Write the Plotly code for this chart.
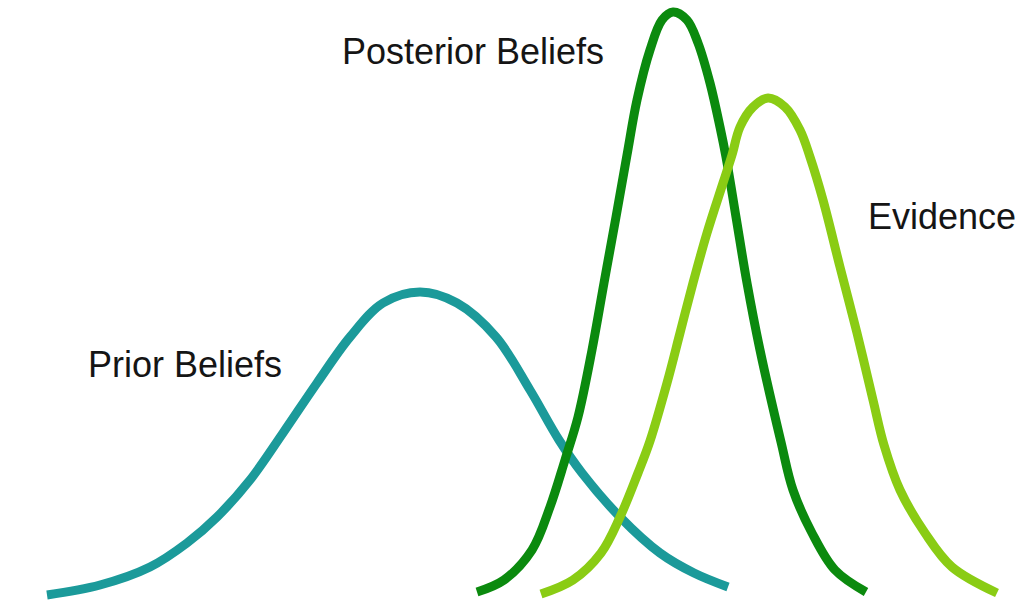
import plotly.graph_objects as go

prior_x = [47, 100, 150, 187, 217, 250, 283, 317, 350, 383, 420, 457, 496, 530, 559, 582, 620, 660, 694, 728]
prior_y = [595, 585, 567, 543, 517, 480, 433, 383, 337, 303, 292, 303, 337, 390, 440, 473, 517, 553, 573, 587]

posterior_x = [477, 504, 532, 550, 565, 578, 592, 604, 616, 627, 637, 650, 662, 673, 687, 698, 710, 720, 726, 736, 747, 760, 781, 793, 812, 835, 866]
posterior_y = [592, 580, 550, 507, 460, 417, 350, 283, 217, 155, 100, 50, 20, 12, 20, 43, 83, 127, 157, 217, 283, 350, 442, 490, 533, 570, 592]

evidence_x = [541, 573, 601, 620, 638, 650, 667, 680, 693, 707, 723, 732, 740, 753, 768, 785, 800, 810, 823, 840, 857, 873, 884, 900, 925, 952, 997]
evidence_y = [594, 580, 553, 517, 473, 441, 383, 333, 283, 233, 183, 155, 127, 107, 98, 107, 130, 157, 200, 267, 333, 400, 445, 490, 533, 567, 593]

labels = ["Prior Beliefs", "Posterior Beliefs", "Evidence"]
label_x = [86, 340, 866]
label_y = [364, 51, 216]

colors = ["#1b9a9a", "#0b8a0e", "#8acc14"]

W, H = 1021, 604

fig = go.Figure()
for xs, ys, c, name in [(prior_x, prior_y, colors[0], labels[0]),
                        (posterior_x, posterior_y, colors[1], labels[1]),
                        (evidence_x, evidence_y, colors[2], labels[2])]:
    fig.add_trace(go.Scatter(x=xs, y=ys, mode="lines", name=name,
                             line=dict(color=c, width=9, shape="spline", smoothing=1.0),
                             hoverinfo="skip"))

for t, x, y in zip(labels, label_x, label_y):
    fig.add_annotation(x=x, y=y, xref="x", yref="y", text=t, showarrow=False,
                       xanchor="left", yanchor="middle",
                       font=dict(family="Liberation Sans, Arial, sans-serif", size=36, color="#151515"))

fig.update_layout(
    width=W, height=H,
    margin=dict(l=0, r=0, t=0, b=0),
    paper_bgcolor="white", plot_bgcolor="white",
    showlegend=False,
    xaxis=dict(range=[0, W], visible=False, fixedrange=True),
    yaxis=dict(range=[H, 0], visible=False, fixedrange=True),
)

fig.write_html("out.html",
               config={"displayModeBar": False},
               post_script="document.body.style.margin='0';document.body.style.overflow='hidden';")
